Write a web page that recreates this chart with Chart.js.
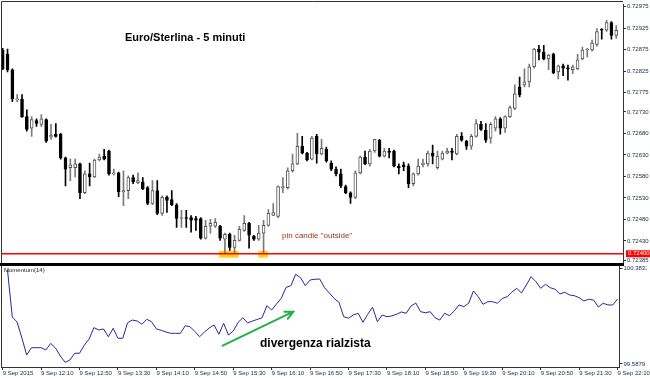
<!DOCTYPE html>
<html>
<head>
<meta charset="utf-8">
<script src="https://cdn.jsdelivr.net/npm/chart.js@4.4.0/dist/chart.umd.min.js"></script>
<style>
html, body { margin: 0; padding: 0; background: #fff; }
#wrap { position: relative; width: 650px; height: 378px; overflow: hidden; }
#wrap canvas { position: absolute; left: 0; top: 0; }
</style>
</head>
<body>
<div id="wrap">
<canvas id="price" width="650" height="378"></canvas>
<canvas id="mom" width="650" height="378"></canvas>
</div>
<script>
var tickLabels = ["9 Sep 2015", "9 Sep 12:10", "9 Sep 12:50", "9 Sep 13:30", "9 Sep 14:10", "9 Sep 14:50",
	"9 Sep 15:30", "9 Sep 16:10", "9 Sep 16:50", "9 Sep 17:30", "9 Sep 18:10", "9 Sep 18:50",
	"9 Sep 19:30", "9 Sep 20:10", "9 Sep 20:50", "9 Sep 21:30", "9 Sep 22:10"];

var openP = [.72874, .72864, .72828, .72758, .72760, .72719, .72692, .72710, .72701, .72712,
	.72671, .72678, .72678, .72623, .72600, .72600, .72609, .72542, .72586, .72579,
	.72618, .72627, .72639, .72586, .72588, .72544, .72547, .72577, .72565, .72567,
	.72554, .72517, .72547, .72494, .72531, .72526, .72514, .72482, .72484, .72484,
	.72482, .72482, .72436, .72464, .72464, .72464, .72434, .72445, .72415, .72431,
	.72454, .72471, .72441, .72434, .72448, .72466, .72489, .72487, .72554, .72554,
	.72593, .72609, .72650, .72634, .72620, .72673, .72632, .72643, .72611, .72597,
	.72586, .72556, .72542, .72531, .72588, .72625, .72609, .72639, .72664, .72627,
	.72639, .72639, .72604, .72607, .72604, .72563, .72586, .72607, .72609, .72634,
	.72600, .72620, .72634, .72639, .72632, .72673, .72662, .72650, .72673, .72701,
	.72687, .72669, .72692, .72714, .72692, .72719, .72738, .72788, .72793, .72800,
	.72835, .72876, .72869, .72853, .72864, .72823, .72837, .72832, .72828, .72830,
	.72853, .72874, .72874, .72887, .72922, .72920, .72938, .72908];

var highP = [.72878, .72876, .72830, .72770, .72770, .72735, .72719, .72714, .72724, .72714,
	.72701, .72703, .72680, .72625, .72620, .72620, .72611, .72593, .72611, .72620,
	.72632, .72643, .72641, .72597, .72590, .72593, .72581, .72583, .72588, .72577,
	.72556, .72570, .72570, .72535, .72535, .72547, .72517, .72501, .72501, .72489,
	.72487, .72484, .72478, .72480, .72482, .72466, .72448, .72448, .72443, .72464,
	.72489, .72473, .72443, .72466, .72478, .72503, .72517, .72558, .72577, .72600,
	.72632, .72680, .72673, .72636, .72673, .72678, .72666, .72648, .72616, .72602,
	.72597, .72560, .72544, .72593, .72627, .72639, .72643, .72666, .72666, .72645,
	.72645, .72641, .72609, .72613, .72609, .72588, .72620, .72620, .72639, .72653,
	.72639, .72639, .72645, .72645, .72678, .72682, .72664, .72678, .72712, .72708,
	.72703, .72705, .72719, .72717, .72721, .72744, .72793, .72811, .72830, .72841,
	.72878, .72885, .72885, .72864, .72867, .72839, .72841, .72839, .72839, .72864,
	.72881, .72878, .72897, .72924, .72924, .72943, .72940, .72931];

var lowP = [.72828, .72823, .72754, .72754, .72717, .72685, .72673, .72696, .72696, .72659,
	.72666, .72671, .72620, .72558, .72570, .72579, .72528, .72540, .72558, .72577,
	.72616, .72618, .72583, .72583, .72533, .72512, .72528, .72563, .72563, .72549,
	.72514, .72514, .72491, .72489, .72496, .72512, .72461, .72461, .72461, .72450,
	.72454, .72434, .72434, .72448, .72461, .72431, .72400, .72408, .72400, .72429,
	.72452, .72413, .72431, .72431, .72400, .72464, .72489, .72484, .72542, .72551,
	.72590, .72607, .72632, .72616, .72618, .72611, .72630, .72613, .72593, .72581,
	.72554, .72540, .72517, .72528, .72586, .72607, .72604, .72636, .72625, .72625,
	.72623, .72602, .72586, .72593, .72554, .72558, .72583, .72602, .72604, .72609,
	.72597, .72618, .72632, .72618, .72630, .72662, .72643, .72643, .72671, .72687,
	.72659, .72657, .72685, .72678, .72682, .72717, .72735, .72765, .72788, .72788,
	.72832, .72851, .72851, .72828, .72819, .72807, .72814, .72804, .72819, .72828,
	.72851, .72858, .72871, .72883, .72899, .72917, .72899, .72901];

var closeP = [.72830, .72828, .72760, .72760, .72719, .72689, .72712, .72703, .72714, .72662,
	.72676, .72673, .72623, .72597, .72607, .72609, .72542, .72586, .72579, .72618,
	.72625, .72620, .72586, .72588, .72544, .72547, .72577, .72567, .72570, .72551,
	.72517, .72547, .72494, .72531, .72524, .72514, .72482, .72484, .72482, .72478,
	.72478, .72436, .72464, .72471, .72473, .72436, .72445, .72415, .72431, .72457,
	.72471, .72443, .72434, .72448, .72466, .72494, .72496, .72556, .72556, .72593,
	.72609, .72650, .72634, .72618, .72669, .72632, .72645, .72616, .72597, .72586,
	.72558, .72542, .72531, .72588, .72625, .72609, .72639, .72666, .72627, .72639,
	.72636, .72604, .72600, .72602, .72563, .72586, .72604, .72611, .72634, .72627,
	.72627, .72634, .72639, .72636, .72673, .72664, .72650, .72673, .72703, .72689,
	.72664, .72701, .72714, .72692, .72719, .72740, .72772, .72770, .72800, .72835,
	.72876, .72869, .72853, .72862, .72821, .72837, .72832, .72830, .72835, .72851,
	.72874, .72876, .72890, .72917, .72920, .72938, .72908, .72920];

// Momentum(14), starts one bar after the first candle
var momentum = [100.367, 99.977, 99.936, 99.803, 99.663, 99.723, 99.723, 99.723, 99.704, 99.759,
	99.720, 99.654, 99.602, 99.621, 99.677, 99.677, 99.745, 99.795, 99.889, 99.870,
	99.878, 99.814, 99.884, 99.801, 99.801, 99.930, 99.952, 99.944, 99.917, 99.958,
	99.938, 99.878, 99.867, 99.853, 99.842, 99.842, 99.842, 99.905, 99.897, 99.857,
	99.814, 99.853, 99.886, 99.911, 99.834, 99.925, 99.828, 99.861, 99.932, 99.971,
	99.928, 99.944, 99.957, 99.971, 100.071, 100.035, 100.085, 100.132, 100.223, 100.237,
	100.331, 100.303, 100.237, 100.284, 100.290, 100.292, 100.220, 100.176, 100.131, 100.099,
	99.980, 99.967, 99.994, 100.008, 99.933, 100.000, 100.058, 99.938, 99.994, 99.980,
	99.986, 100.000, 100.019, 100.008, 100.068, 100.093, 100.021, 100.013, 100.021, 99.971,
	99.952, 100.008, 99.988, 100.027, 100.077, 100.063, 100.091, 100.193, 100.145, 100.082,
	100.104, 100.104, 100.091, 100.131, 100.145, 100.184, 100.215, 100.176, 100.242, 100.311,
	100.270, 100.215, 100.248, 100.220, 100.207, 100.168, 100.182, 100.160, 100.154, 100.137,
	100.110, 100.124, 100.118, 100.060, 100.091, 100.077, 100.077, 100.126];

var priceTicks = [0.72975, 0.72925, 0.72875, 0.72825, 0.72775, 0.72730, 0.72680, 0.72630,
	0.72580, 0.72530, 0.72480, 0.72430, 0.72385];
var momTicks = [99.5879, 100.3832];
var supportLevel = 0.72400;

// yellow boxes on the lows touching the support, in bar units
var markFrom = [44.8, 52.9];
var markTo = [48.8, 54.9];
var markBand = [0.72391, 0.72407];

// divergence arrow, bar index / momentum value
var arrowFrom = [45.8, 99.740];
var arrowTo = [60.5, 100.021];

var axisFont = {family: '"Liberation Sans", Arial, sans-serif', size: 6};
var axisColor = "#1a2848";
var frameColor = "#333";

var bull = closeP.map((c, i) => c >= openP[i]);

var wicks = {
	data: openP.map((o, i) => ({x: i, y: [lowP[i], highP[i]]})),
	backgroundColor: bull.map(b => b ? "#7a7a7a" : "#000"),
	barThickness: 1,
	grouped: false,
	order: 2
};

var bodies = {
	data: openP.map((o, i) => ({x: i, y: [o, closeP[i]]})),
	backgroundColor: bull.map(b => b ? "#fff" : "#000"),
	borderColor: bull.map(b => b ? "#555" : "#000"),
	borderWidth: 1,
	borderSkipped: false,
	minBarLength: 1,
	barThickness: 3,
	grouped: false,
	order: 1
};

var priceDeco = {
	id: "priceDeco",
	beforeDatasetsDraw: function (chart)
	{
		var ctx = chart.ctx, x = chart.scales.x, y = chart.scales.y;
		ctx.save();
		ctx.fillStyle = "#fbd21a";
		markFrom.forEach(function (f, i)
		{
			var x0 = x.getPixelForValue(f), x1 = x.getPixelForValue(markTo[i]);
			var y0 = y.getPixelForValue(markBand[1]), y1 = y.getPixelForValue(markBand[0]);
			ctx.fillRect(x0, y0, x1 - x0, y1 - y0);
		});
		ctx.restore();
	},
	afterDatasetsDraw: function (chart)
	{
		var ctx = chart.ctx, a = chart.chartArea, y = chart.scales.y;
		var ly = y.getPixelForValue(supportLevel);
		ctx.save();
		ctx.strokeStyle = "#ff0000";
		ctx.lineWidth = 1.5;
		ctx.beginPath();
		ctx.moveTo(a.left, ly);
		ctx.lineTo(a.right, ly);
		ctx.stroke();
		ctx.restore();
	},
	afterDraw: function (chart)
	{
		var ctx = chart.ctx, a = chart.chartArea, y = chart.scales.y;
		var ly = y.getPixelForValue(supportLevel);
		ctx.save();
		ctx.strokeStyle = frameColor;
		ctx.lineWidth = 1;
		ctx.beginPath();
		ctx.moveTo(1.5, a.bottom);
		ctx.lineTo(1.5, 1.5);
		ctx.lineTo(a.right, 1.5);
		ctx.stroke();

		ctx.fillStyle = "#000";
		ctx.fillRect(0, a.bottom, a.right + 1, 3);

		ctx.fillStyle = "#ff0000";
		ctx.fillRect(a.right + 3, ly - 3.5, 650 - a.right - 3, 7);
		ctx.fillStyle = "#fff";
		ctx.font = '6px "Liberation Sans", Arial, sans-serif';
		ctx.textBaseline = "middle";
		ctx.fillText(supportLevel.toFixed(5), a.right + 5, ly);

		ctx.fillStyle = "#000";
		ctx.font = 'bold 11px "Liberation Sans", Arial, sans-serif';
		ctx.fillText("Euro/Sterlina - 5 minuti", 125, 38);

		ctx.fillStyle = "#8a3a16";
		ctx.font = '8px "Liberation Sans", Arial, sans-serif';
		ctx.fillText('pin candle "outside"', 282, 236);
		ctx.restore();
	}
};

var momDeco = {
	id: "momDeco",
	afterDraw: function (chart)
	{
		var ctx = chart.ctx, a = chart.chartArea, x = chart.scales.x, y = chart.scales.y;
		ctx.save();
		ctx.strokeStyle = frameColor;
		ctx.lineWidth = 1;
		ctx.beginPath();
		ctx.moveTo(1.5, a.top);
		ctx.lineTo(1.5, a.bottom);
		ctx.stroke();

		ctx.fillStyle = "#222";
		ctx.font = '6px "Liberation Sans", Arial, sans-serif';
		ctx.textBaseline = "middle";
		ctx.fillText("Momentum(14)", 4, 270.5);

		ctx.fillStyle = "#000";
		ctx.font = 'bold 12px "Liberation Sans", Arial, sans-serif';
		ctx.fillText("divergenza rialzista", 260, 344);

		var x0 = x.getPixelForValue(arrowFrom[0]), y0 = y.getPixelForValue(arrowFrom[1]);
		var x1 = x.getPixelForValue(arrowTo[0]), y1 = y.getPixelForValue(arrowTo[1]);
		var ang = Math.atan2(y1 - y0, x1 - x0);
		ctx.strokeStyle = "#22b04a";
		ctx.lineWidth = 2;
		ctx.lineCap = "round";
		ctx.beginPath();
		ctx.moveTo(x0, y0);
		ctx.lineTo(x1, y1);
		ctx.moveTo(x1 - 9 * Math.cos(ang - 0.45), y1 - 9 * Math.sin(ang - 0.45));
		ctx.lineTo(x1, y1);
		ctx.lineTo(x1 - 9 * Math.cos(ang + 0.45), y1 - 9 * Math.sin(ang + 0.45));
		ctx.stroke();
		ctx.restore();
	}
};

new Chart(document.getElementById("price"), {
	type: "bar",
	data: {datasets: [wicks, bodies]},
	options: {
		responsive: false,
		animation: false,
		layout: {autoPadding: false, padding: {left: 1, top: 2, right: 0, bottom: 115}},
		plugins: {legend: {display: false}, tooltip: {enabled: false}},
		scales: {
			x: {type: "linear", min: -0.35, max: 128.4, display: false, offset: false},
			y: {
				position: "right",
				min: 0.723785,
				max: 0.729796,
				afterFit: s => { s.width = 27; },
				afterBuildTicks: s => { s.ticks = priceTicks.map(v => ({value: v})); },
				grid: {drawOnChartArea: false, tickLength: 3, color: frameColor},
				border: {color: frameColor},
				ticks: {font: axisFont, color: axisColor, padding: 1, callback: v => v.toFixed(5)}
			}
		}
	},
	plugins: [priceDeco]
});

new Chart(document.getElementById("mom"), {
	type: "line",
	data: {
		datasets: [{
			data: momentum.map((v, k) => ({x: k + 1, y: v})),
			borderColor: "#27279a",
			borderWidth: 1,
			pointRadius: 0,
			tension: 0
		}]
	},
	options: {
		responsive: false,
		animation: false,
		layout: {autoPadding: false, padding: {left: 1, top: 266, right: 0, bottom: 0}},
		plugins: {legend: {display: false}, tooltip: {enabled: false}},
		scales: {
			x: {
				type: "linear",
				min: -0.35,
				max: 128.4,
				afterFit: s => { s.height = 11; },
				afterBuildTicks: s => { s.ticks = tickLabels.map((t, i) => ({value: i * 8})); },
				grid: {drawOnChartArea: false, tickLength: 3, color: frameColor},
				border: {color: frameColor},
				ticks: {font: axisFont, color: axisColor, padding: 0, align: "start", maxRotation: 0,
					autoSkip: false, callback: (v, i) => tickLabels[i]}
			},
			y: {
				position: "right",
				min: 99.5630,
				max: 100.3998,
				afterFit: s => { s.width = 27; },
				afterBuildTicks: s => { s.ticks = momTicks.map(v => ({value: v})); },
				grid: {drawOnChartArea: false, tickLength: 3, color: frameColor},
				border: {color: frameColor},
				ticks: {font: axisFont, color: axisColor, padding: 1, callback: v => v.toFixed(4)}
			}
		}
	},
	plugins: [momDeco]
});
</script>
</body>
</html>
